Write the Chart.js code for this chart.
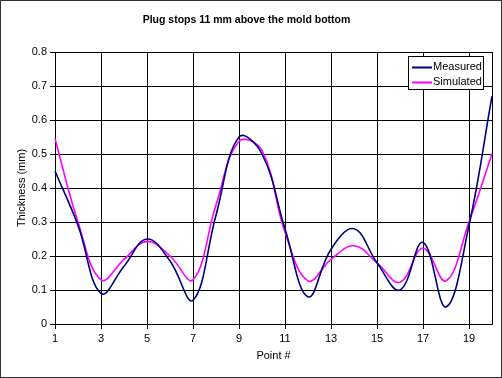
<!DOCTYPE html>
<html><head><meta charset="utf-8">
<script src="https://cdn.jsdelivr.net/npm/chart.js@4"></script>
<style>
html,body{margin:0;padding:0;background:#fff;}
#wrap{width:502px;height:378px;box-sizing:border-box;border:1px solid #333;background:#fff;}
canvas{display:block;}
</style></head><body>
<div id="wrap"><canvas id="c" width="500" height="376"></canvas></div>
<script>
const pointLabels = ['1','2','3','4','5','6','7','8','9','10','11','12','13','14','15','16','17','18','19','20'];
const measured  = [0.45, 0.29, 0.09, 0.17, 0.25, 0.185, 0.07, 0.32, 0.55, 0.50, 0.28, 0.08, 0.22, 0.28, 0.18, 0.10, 0.24, 0.05, 0.29, 0.67];
const simulated = [0.545, 0.30, 0.13, 0.19, 0.243, 0.20, 0.13, 0.35, 0.537, 0.51, 0.27, 0.127, 0.19, 0.23, 0.18, 0.123, 0.223, 0.127, 0.30, 0.50];
const seriesNames = ['Measured', 'Simulated'];
const seriesColors = ['#000080', '#ff00ff'];
const yMin = 0, yMax = 0.8, yStep = 0.1;
const titleText = 'Plug stops 11 mm above the mold bottom';
const xTitle = 'Point #';
const yTitle = 'Thickness (mm)';

const FONT = "'Liberation Sans', Arial, sans-serif";
const tickFont = {family: FONT, size: 11};

const legendPlugin = {
  id: 'boxLegend',
  afterDraw(chart) {
    const {ctx, chartArea} = chart;
    const bx = chartArea.right - 84, by = chartArea.top + 4, bw = 75, bh = 33;
    ctx.save();
    ctx.fillStyle = '#fff';
    ctx.fillRect(bx, by, bw, bh);
    ctx.strokeStyle = '#000';
    ctx.lineWidth = 1;
    ctx.strokeRect(bx + 0.5, by + 0.5, bw, bh);
    ctx.font = "11px " + FONT;
    ctx.textBaseline = 'middle';
    ctx.textAlign = 'left';
    chart.data.datasets.forEach((ds, i) => {
      const y = by + 10.5 + i * 15.7;
      ctx.strokeStyle = ds.borderColor;
      ctx.lineWidth = 2;
      ctx.beginPath();
      ctx.moveTo(bx + 4, Math.round(y) + 0.5);
      ctx.lineTo(bx + 24, Math.round(y) + 0.5);
      ctx.stroke();
      ctx.fillStyle = '#000';
      ctx.fillText(ds.label, bx + 25, y);
    });
    ctx.restore();
  }
};

new Chart(document.getElementById('c'), {
  type: 'line',
  data: {
    labels: pointLabels,
    datasets: [
      {label: seriesNames[0], data: measured, borderColor: seriesColors[0], backgroundColor: seriesColors[0], borderWidth: 1.6, pointRadius: 0, tension: 0.4, fill: false},
      {label: seriesNames[1], data: simulated, borderColor: seriesColors[1], backgroundColor: seriesColors[1], borderWidth: 1.6, pointRadius: 0, tension: 0.4, fill: false}
    ]
  },
  options: {
    responsive: false,
    animation: false,
    devicePixelRatio: 1,
    layout: {padding: {left: 0, right: 9, top: 0, bottom: 14.4}},
    plugins: {
      legend: {display: false},
      tooltip: {enabled: false},
      title: {
        display: true, text: titleText, color: '#000',
        font: {family: FONT, size: 10.5, weight: 'bold'},
        padding: {top: 12.7, bottom: 25.7}
      }
    },
    scales: {
      x: {
        type: 'category',
        offset: false,
        grid: {
          color: (c) => (c.index % 2 === 0 || c.index === pointLabels.length - 1) ? '#000' : 'rgba(0,0,0,0)',
          tickColor: (c) => (c.index % 2 === 0) ? '#000' : 'rgba(0,0,0,0)',
          tickLength: 5, lineWidth: 1
        },
        border: {color: '#000', width: 1},
        ticks: {
          autoSkip: false, maxRotation: 0, minRotation: 0, padding: 3, color: '#000', font: tickFont,
          callback: (v, i) => (i % 2 === 0) ? pointLabels[i] : ''
        },
        title: {display: true, text: xTitle, color: '#000', font: tickFont, padding: {top: 0, bottom: 0}},
        afterFit: (s) => { s.height = 38.6; }
      },
      y: {
        min: yMin, max: yMax,
        grid: {color: '#000', tickColor: '#000', tickLength: 5, lineWidth: 1},
        border: {color: '#000', width: 1},
        ticks: {
          stepSize: yStep, padding: 3, color: '#000', font: tickFont,
          callback: (v) => (Math.abs(v) < 1e-9 ? '0' : v.toFixed(1))
        },
        title: {display: true, text: yTitle, color: '#000', font: tickFont, padding: {top: 14.4, bottom: 0}},
        afterFit: (s) => { s.width = 54; }
      }
    }
  },
  plugins: [legendPlugin]
});
</script>
</body></html>
